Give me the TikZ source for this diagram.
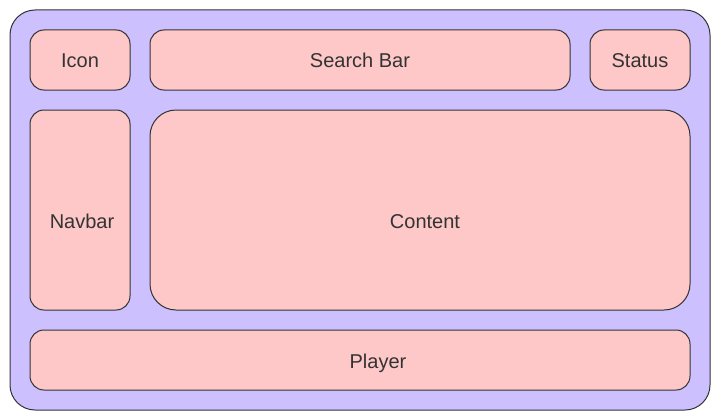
\documentclass[tikz,border=0pt]{standalone}
\usepackage{fontspec}
\setmainfont{Liberation Sans}
\definecolor{outerfill}{HTML}{CCC0FF}
\definecolor{boxfill}{HTML}{FFC8C8}
\definecolor{edge}{HTML}{333333}
\definecolor{txt}{HTML}{333333}
\tikzset{
  panel/.style={draw=edge, line width=1pt, fill=boxfill, rounded corners=14pt,
    inner sep=0pt, outer sep=0pt},
  bigpanel/.style={panel, rounded corners=26pt},
  frame/.style={draw=edge, line width=1pt, fill=outerfill, rounded corners=25pt,
    inner sep=0pt, outer sep=0pt},
  caption/.style={text=txt, inner sep=0pt, text height=14.3pt, text depth=0pt,
    font=\fontsize{20}{23}\selectfont}
}
\begin{document}
\begin{tikzpicture}[x=1pt,y=-1pt]
\useasboundingbox (0,0) rectangle (720,420);
\node[frame, minimum width=700pt, minimum height=400pt] (outer) at (360,210) {};
\node[panel, minimum width=100pt, minimum height=60pt] (icon) at (80,60) {};
\node[panel, minimum width=420pt, minimum height=60pt] (search) at (360,60) {};
\node[panel, minimum width=100pt, minimum height=60pt] (status) at (640,60) {};
\node[panel, minimum width=100pt, minimum height=200pt] (navbar) at (80,210) {};
\node[bigpanel, minimum width=540pt, minimum height=200pt] (content) at (420,210) {};
\node[panel, minimum width=660pt, minimum height=60pt] (player) at (360,360) {};
\node[caption] (iconT) at ([yshift=-0.5pt]icon.center) {Icon};
\node[caption] (searchT) at (search.center) {Search Bar};
\node[caption] (statusT) at (status.center) {Status};
\node[caption] (navbarT) at ([shift={(2,11)}]navbar.center) {Navbar};
\node[caption] (contentT) at ([shift={(5,11)}]content.center) {Content};
\node[caption] (playerT) at ([shift={(18,1)}]player.center) {Player};
\end{tikzpicture}
\end{document}
